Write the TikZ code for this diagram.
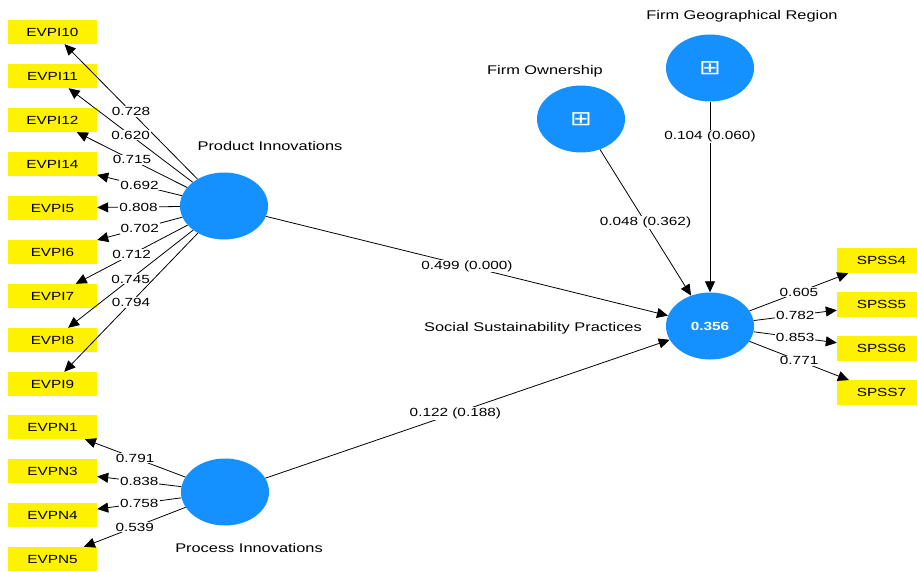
\documentclass[tikz,border=0pt]{standalone}
\usepackage{fontspec}
\setmainfont{Liberation Sans}[FakeStretch=1.3]
\newfontfamily\symfont{DejaVu Sans}[FakeStretch=1.3]
\usetikzlibrary{positioning,shapes.geometric,arrows.meta}
\definecolor{lvblue}{RGB}{20,145,255}
\newcommand{\plusbox}{{\symfont\fontsize{20}{20}\selectfont\textcolor{white}{⊞}}}

\begin{document}
\begin{tikzpicture}[x=1pt, y=-1pt,
        lv/.style={fill=lvblue, shape=ellipse, inner sep=0pt, minimum width=88pt, minimum height=67pt},
        ind/.style={fill=yellow, inner sep=0pt, minimum width=89pt, minimum height=24pt, font=\fontsize{11.8}{13}\selectfont},
        lbl/.style={fill=white, inner sep=1pt, font=\fontsize{11.8}{13}\selectfont},
        lvname/.style={font=\fontsize{12.6}{15}\selectfont},
        arr/.style={-{Triangle[length=11pt,width=10pt]}}]
        \useasboundingbox (0,0) rectangle (917,572);

        % constructs
        \node[lv] (pi) at (224,206) {};
        \node[lv] (pc) at (225,492) {};
        \node[lv] (fo) at (581,119) {\plusbox};
        \node[lv] (fg) at (710,68) {\plusbox};
        \node[lv, text=white, font=\bfseries\fontsize{11.8}{13}\selectfont] (ssp) at (710,326) {0.356};

        \node[lvname] (pil) at (270,146) {Product Innovations};
        \node[lvname] (pcl) at (249,548) {Process Innovations};
        \node[lvname] (fol) at (545,71) {Firm Ownership};
        \node[lvname] (fgl) at (742,16) {Firm Geographical Region};
        \node[lvname] (sspl) at (533,328) {Social Sustainability Practices};

        % indicators
        \node[ind] (e10) at (52.5,32) {EVPI10};
        \node[ind] (e11) [below=19.6pt of e10] {EVPI11};
        \node[ind] (e12) [below=19.6pt of e11] {EVPI12};
        \node[ind] (e14) [below=19.6pt of e12] {EVPI14};
        \node[ind] (e5) [below=19.6pt of e14] {EVPI5};
        \node[ind] (e6) [below=19.6pt of e5] {EVPI6};
        \node[ind] (e7) [below=19.6pt of e6] {EVPI7};
        \node[ind] (e8) [below=19.6pt of e7] {EVPI8};
        \node[ind] (e9) [below=19.6pt of e8] {EVPI9};

        \node[ind] (n1) at (52.5,427) {EVPN1};
        \node[ind] (n3) [below=19.6pt of n1] {EVPN3};
        \node[ind] (n4) [below=19.6pt of n3] {EVPN4};
        \node[ind] (n5) [below=19.6pt of n4] {EVPN5};

        \node[ind, minimum height=25pt] (s4) at (881.5,260.5) {SPSS4};
        \node[ind, minimum height=25pt] (s5) [below=18.7pt of s4] {SPSS5};
        \node[ind, minimum height=25pt] (s6) [below=18.7pt of s5] {SPSS6};
        \node[ind, minimum height=25pt] (s7) [below=18.7pt of s6] {SPSS7};

        % loadings
        \draw[line width=0.8pt] (pi) edge[arr] node[lbl] {0.728} (e10) (pi) edge[arr] node[lbl] {0.620} (e11)
            (pi) edge[arr] node[lbl] {0.715} (e12) (pi) edge[arr] node[lbl] {0.692} (e14)
            (pi) edge[arr] node[lbl] {0.808} (e5) (pi) edge[arr] node[lbl] {0.702} (e6)
            (pi) edge[arr] node[lbl] {0.712} (e7) (pi) edge[arr] node[lbl] {0.745} (e8)
            (pi) edge[arr] node[lbl] {0.794} (e9);
        \draw[line width=0.8pt] (pc) edge[arr] node[lbl] {0.791} (n1) (pc) edge[arr] node[lbl] {0.838} (n3)
            (pc) edge[arr] node[lbl] {0.758} (n4) (pc) edge[arr] node[lbl] {0.539} (n5);
        \draw[line width=0.8pt] (ssp) edge[arr] node[lbl] {0.605} (s4) (ssp) edge[arr] node[lbl] {0.782} (s5)
            (ssp) edge[arr] node[lbl] {0.853} (s6) (ssp) edge[arr] node[lbl] {0.771} (s7);

        % paths
        \draw[line width=0.8pt] (pi) edge[arr] node[lbl] {0.499 (0.000)} (ssp)
            (pc) edge[arr] node[lbl, pos=0.47] {0.122 (0.188)} (ssp)
            (fo) edge[arr] node[lbl] {0.048 (0.362)} (ssp)
            (fg) edge[arr] node[lbl, pos=0.18] {0.104 (0.060)} (ssp);

        \end{tikzpicture}
\end{document}
